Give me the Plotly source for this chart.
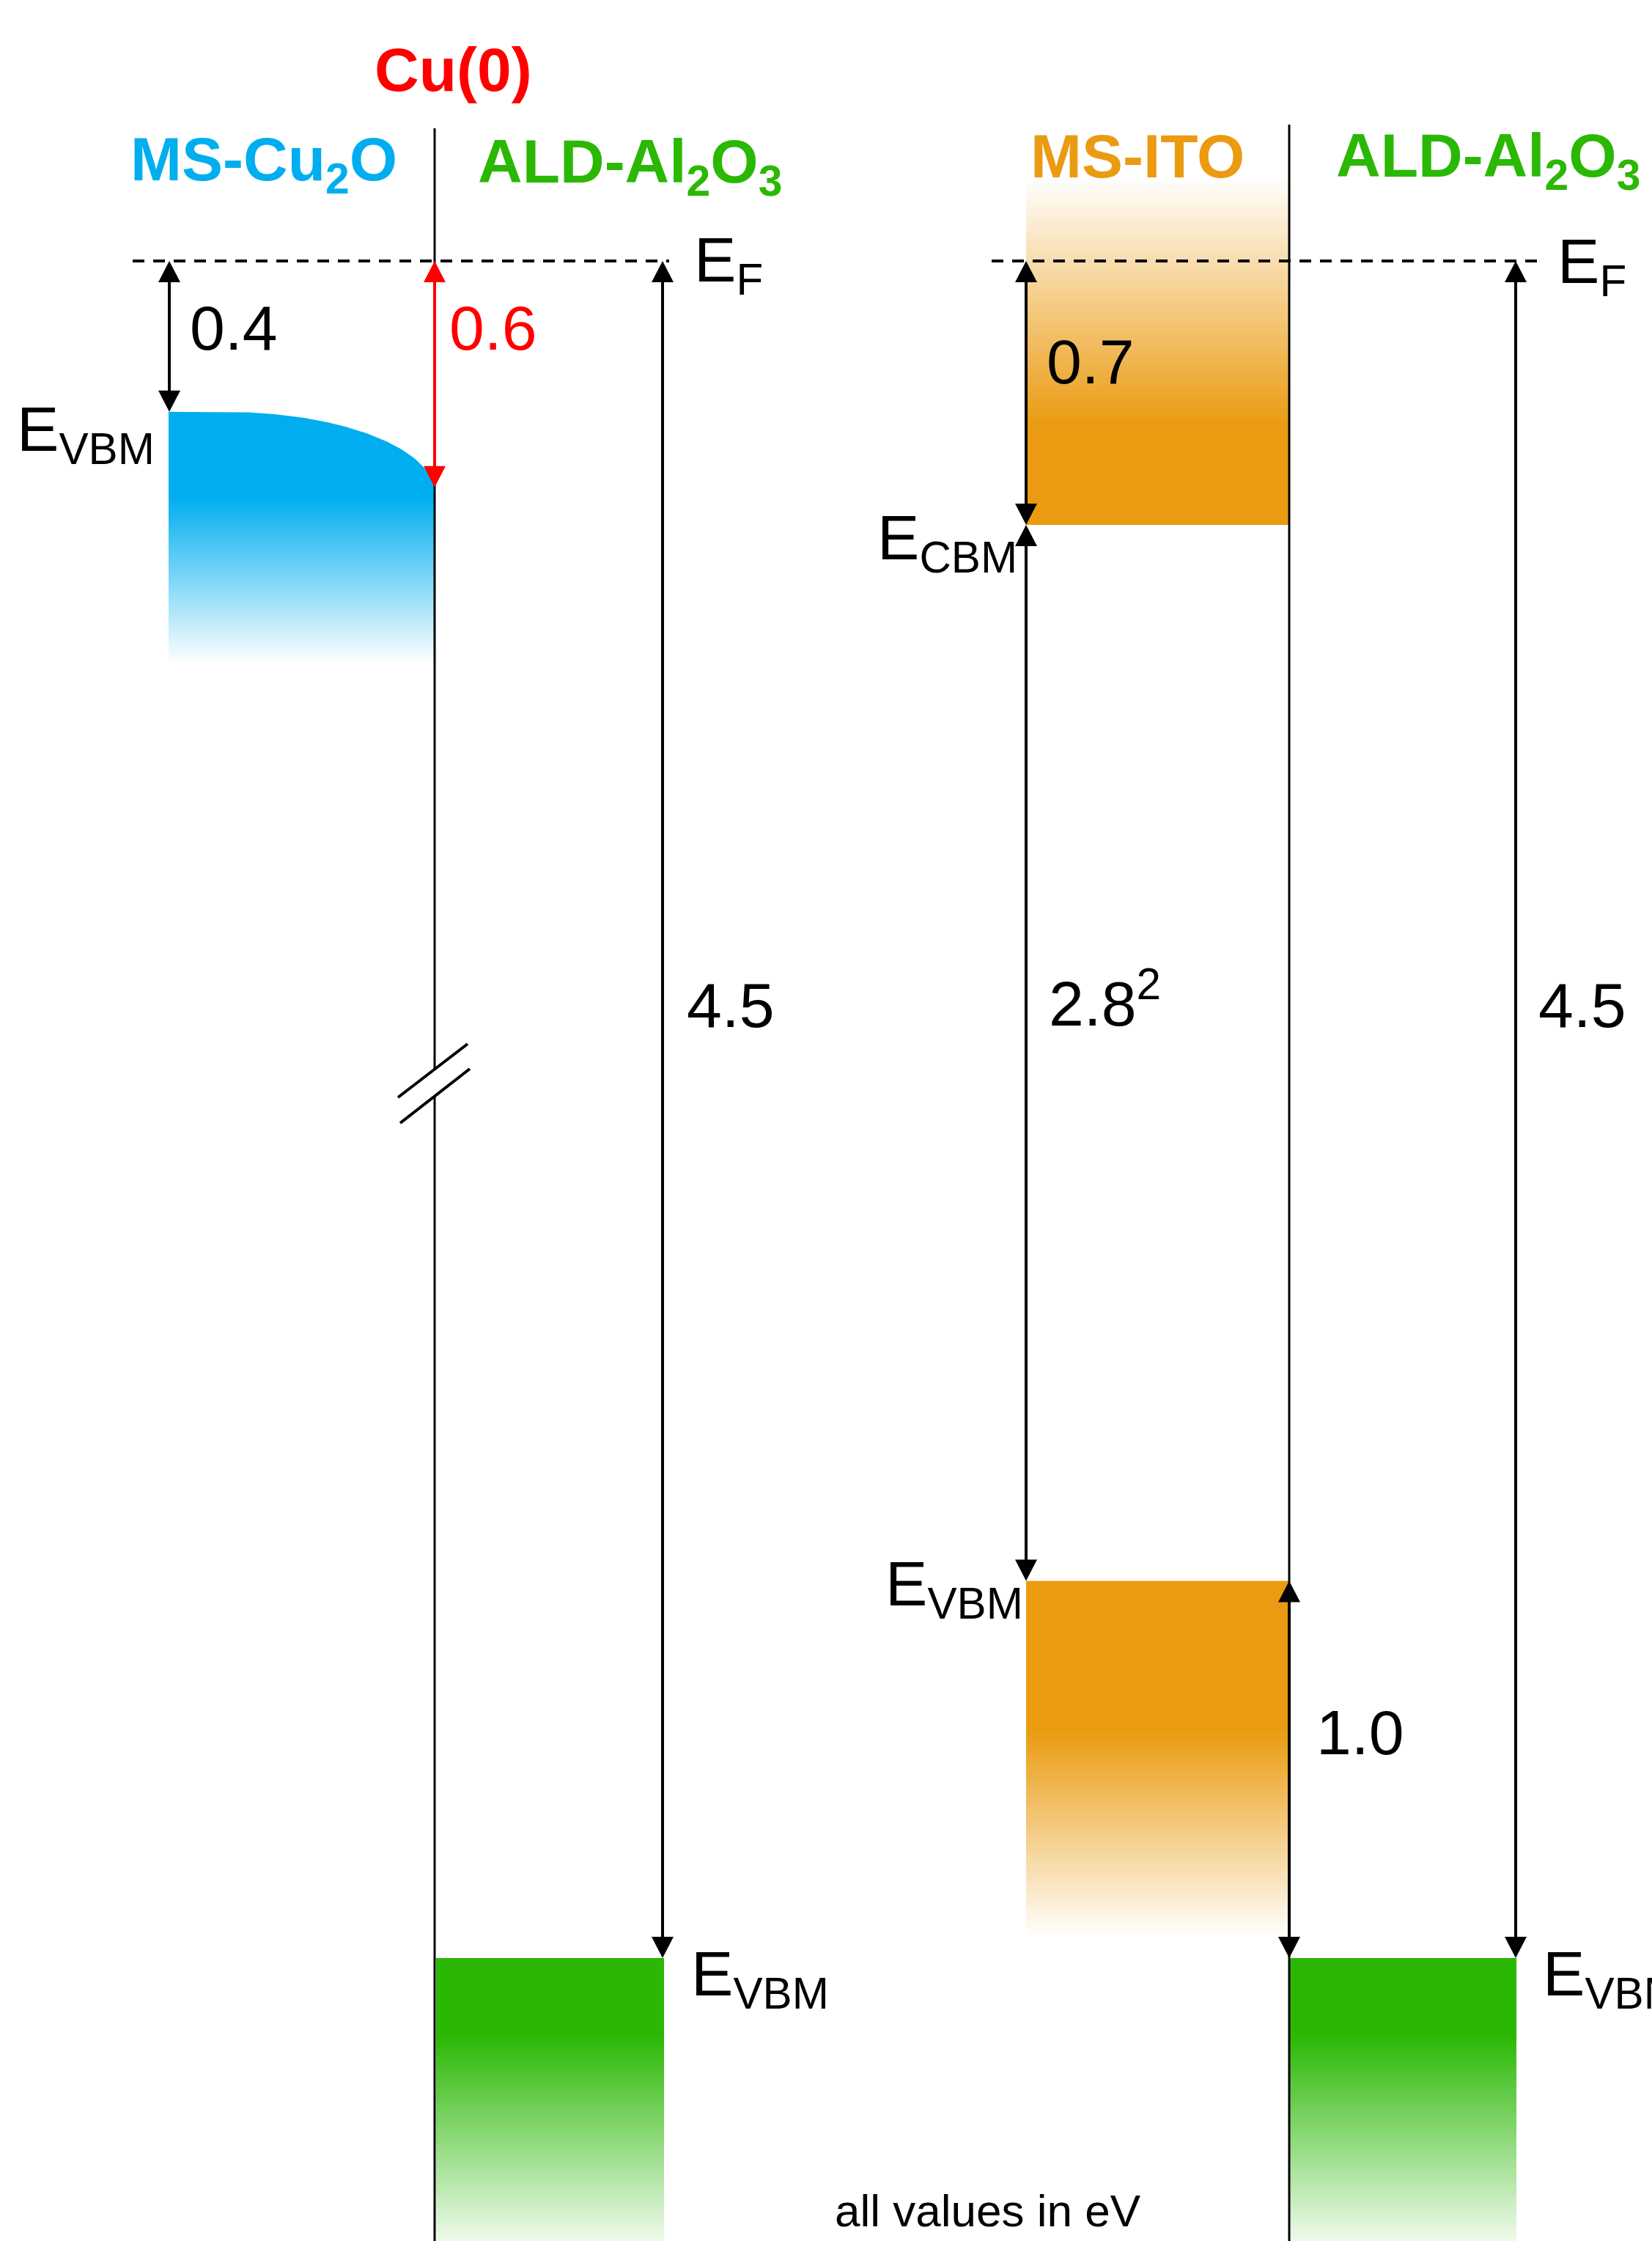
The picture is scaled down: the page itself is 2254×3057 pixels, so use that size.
import numpy as np
import plotly.graph_objects as go

# ---------------------------------------------------------------------------
# Band alignment data (eV), all energies referenced to the Fermi level E_F = 0
# ---------------------------------------------------------------------------
fermi_level = 0.0
cu2o_vbm_offset = 0.4      # E_F - E_VBM, MS-Cu2O bulk
cu0_interface_offset = 0.6  # E_F - E_VBM, Cu2O at the Cu(0) interface
ito_cbm_offset = 0.7       # E_F - E_CBM, MS-ITO (degenerate)
ito_band_gap = 2.8         # E_CBM - E_VBM, MS-ITO
ito_al2o3_vbo = 1.0        # valence band offset ITO / Al2O3
al2o3_vbm_offset = 4.5     # E_F - E_VBM, ALD-Al2O3

header_texts = ["Cu(0)", "MS-Cu<sub>2</sub>O", "ALD-Al<sub>2</sub>O<sub>3</sub>",
                "MS-ITO", "ALD-Al<sub>2</sub>O<sub>3</sub>"]
value_labels = ["0.4", "0.6", "4.5", "0.7", "2.8<sup>2</sup>", "1.0", "4.5"]
footnote = "all values in eV"

# derived levels
cu2o_vbm = fermi_level - cu2o_vbm_offset
cu2o_vbm_interface = fermi_level - cu0_interface_offset
ito_cbm = fermi_level - ito_cbm_offset
ito_vbm = ito_cbm - ito_band_gap
al2o3_vbm = fermi_level - al2o3_vbm_offset

# ---------------------------------------------------------------------------
# Canvas / energy scale
# ---------------------------------------------------------------------------
W, H = 2254, 3057
EF_PX = 356.0
PX_PER_EV = (2671.0 - EF_PX) / al2o3_vbm_offset
Y_TOP = EF_PX / PX_PER_EV
Y_BOT = (EF_PX - H) / PX_PER_EV


def e_at(px):
    """Energy value sitting at a given vertical pixel row."""
    return (EF_PX - px) / PX_PER_EV


def yp(px):
    """Paper coordinate for a vertical pixel row."""
    return 1.0 - px / H


FONT = "Liberation Sans, Arial, Helvetica, sans-serif"
BLUE = (0, 174, 239)
ORANGE = (234, 155, 17)
GREEN = (42, 184, 4)
RED = "#ff0000"

fig = go.Figure()


def gradient_block(x0, x1, e_top, e_bot, solid_from, solid_to, rgb, fade="down", n=240):
    """Vertical colour band whose opacity fades out (heatmap with rgba scale)."""
    edges = np.linspace(e_top, e_bot, n + 1)
    mids = 0.5 * (edges[:-1] + edges[1:])
    if fade == "down":
        alpha = np.clip((mids - e_bot) / (solid_to - e_bot), 0, 1)
    else:
        alpha = np.clip((e_top - mids) / (e_top - solid_from), 0, 1)
    r, g, b = rgb
    fig.add_trace(go.Heatmap(
        x=[x0, x1], y=edges, z=alpha.reshape(-1, 1),
        zmin=0, zmax=1, showscale=False, hoverinfo="skip",
        colorscale=[[0, f"rgba({r},{g},{b},0)"], [1, f"rgba({r},{g},{b},1)"]],
    ))


# --- MS-Cu2O valence band with the downward bend at the Cu(0) interface ---
x_cu_left, x_bend, x_if = 230, 306, 593
a = 288.0
xs = np.linspace(x_bend, x_if, 80)
shape = 1 - np.sqrt(np.clip(1 - ((xs - x_bend) / a) ** 2, 0, None))
shape = shape / shape[-1]
top_curve = cu2o_vbm + (cu2o_vbm_interface - cu2o_vbm) * shape
e_solid_end = e_at(680)
r, g, b = BLUE
fig.add_trace(go.Scatter(
    x=[x_cu_left] + list(xs) + [x_if, x_cu_left],
    y=[cu2o_vbm] + list(top_curve) + [e_solid_end, e_solid_end],
    fill="toself", fillcolor=f"rgb({r},{g},{b})", mode="lines",
    line=dict(width=0, color=f"rgb({r},{g},{b})"), hoverinfo="skip", showlegend=False,
))
gradient_block(x_cu_left, x_if, e_at(677), e_at(905), None, e_at(678), BLUE, "down")

# --- MS-ITO conduction band (filled, degenerate) and valence band ---
gradient_block(1400, 1759, e_at(241), ito_cbm, e_at(580), None, ORANGE, "up")
gradient_block(1400, 1759, ito_vbm, e_at(2643), None, e_at(2362), ORANGE, "down")

# --- ALD-Al2O3 valence bands ---
gradient_block(595, 906, al2o3_vbm, e_at(3080), None, e_at(2776), GREEN, "down")
gradient_block(1759, 2069, al2o3_vbm, e_at(3080), None, e_at(2776), GREEN, "down")

# ---------------------------------------------------------------------------
# Lines: interfaces, axis break, Fermi level
# ---------------------------------------------------------------------------
shapes = []
lw = 3
shapes.append(dict(type="line", xref="x", yref="paper", x0=593, x1=593,
                   y0=yp(175), y1=yp(1459), line=dict(color="black", width=lw)))
shapes.append(dict(type="line", xref="x", yref="paper", x0=593, x1=593,
                   y0=yp(1495), y1=yp(H + 5), line=dict(color="black", width=lw)))
shapes.append(dict(type="line", xref="x", yref="paper", x0=543, x1=638,
                   y0=yp(1497), y1=yp(1424), line=dict(color="black", width=4)))
shapes.append(dict(type="line", xref="x", yref="paper", x0=546, x1=641,
                   y0=yp(1532), y1=yp(1458), line=dict(color="black", width=4)))
shapes.append(dict(type="line", xref="x", yref="paper", x0=1759, x1=1759,
                   y0=yp(170), y1=yp(H + 5), line=dict(color="black", width=lw)))
for x0, x1 in [(181, 913), (1353, 2102)]:
    shapes.append(dict(type="line", xref="x", yref="y", x0=x0, x1=x1,
                       y0=fermi_level, y1=fermi_level,
                       line=dict(color="black", width=4, dash="16px,12px")))

# ---------------------------------------------------------------------------
# Double-headed energy arrows (shaft + two filled triangular heads)
# ---------------------------------------------------------------------------
HEAD_LEN_PX = 29
HEAD_W_PX = 30


def arrow(x, e_from, e_to, color="black"):
    h = HEAD_LEN_PX / PX_PER_EV
    d = 1.0 if e_to > e_from else -1.0
    shapes.append(dict(type="line", xref="x", yref="y", x0=x, x1=x,
                       y0=e_from + d * h * 0.6, y1=e_to - d * h * 0.6,
                       line=dict(color=color, width=4)))
    for tip, dd in [(e_to, d), (e_from, -d)]:
        base = tip - dd * h
        path = (f"M {x - HEAD_W_PX / 2},{base} L {x + HEAD_W_PX / 2},{base} "
                f"L {x},{tip} Z")
        shapes.append(dict(type="path", xref="x", yref="y", path=path,
                           fillcolor=color, line=dict(width=0)))


arrow(231, fermi_level, cu2o_vbm)
arrow(593, fermi_level, cu2o_vbm_interface, RED)
arrow(904, fermi_level, al2o3_vbm)
arrow(1400, fermi_level, ito_cbm)
arrow(1400, ito_cbm, ito_vbm)
arrow(1759, ito_vbm, al2o3_vbm)
arrow(2068, fermi_level, al2o3_vbm)

for s in shapes:
    s["layer"] = "above"

# ---------------------------------------------------------------------------
# Text
# ---------------------------------------------------------------------------
annotations = []


def text_px(text, x, y_px, size, color="black", bold=False, xanchor="left"):
    annotations.append(dict(
        text=text, x=x, y=yp(y_px), xref="x", yref="paper",
        xanchor=xanchor, yanchor="middle", showarrow=False, borderpad=0,
        font=dict(family=FONT, size=size, color=color, weight="bold" if bold else "normal"),
    ))


def level_label(text, x, level, offset_px, xanchor):
    annotations.append(dict(
        text=text, x=x, y=level, xref="x", yref="y", yshift=-offset_px,
        xanchor=xanchor, yanchor="middle", showarrow=False, borderpad=0,
        font=dict(family=FONT, size=86, color="black"),
    ))


# headers
hdr_colors = [RED, "rgb(0,174,239)", "rgb(42,184,4)", "rgb(234,155,17)", "rgb(42,184,4)"]
hdr_x = [618, 360, 859, 1552, 2030]
hdr_y = [95, 223, 226, 213, 218]
for t, c, x, y in zip(header_texts, hdr_colors, hdr_x, hdr_y):
    text_px(t, x, y, 84, c, bold=True, xanchor="center")

# values next to the arrows
val_x = [258, 612, 936, 1427, 1430, 1795, 2098]
val_y = [447, 447, 1371, 493, 1363, 2363, 1371]
val_c = ["black", RED, "black", "black", "black", "black", "black"]
for t, x, y, c in zip(value_labels, val_x, val_y, val_c):
    text_px(t, x, y, 86, c)

# energy level names
level_label("E<sub>F</sub>", 946, fermi_level, 4, "left")
level_label("E<sub>F</sub>", 2124, fermi_level, 6, "left")
level_label("E<sub>VBM</sub>", 212, cu2o_vbm, 30, "right")
level_label("E<sub>CBM</sub>", 1389, ito_cbm, 23, "right")
level_label("E<sub>VBM</sub>", 1397, ito_vbm, 10, "right")
level_label("E<sub>VBM</sub>", 942, al2o3_vbm, 27, "left")
level_label("E<sub>VBM</sub>", 2104, al2o3_vbm, 27, "left")

text_px(footnote, 1348, 3015, 62, xanchor="center")

fig.update_layout(
    width=W, height=H, margin=dict(l=0, r=0, t=0, b=0, pad=0),
    paper_bgcolor="white", plot_bgcolor="white", showlegend=False,
    xaxis=dict(range=[0, W], visible=False, fixedrange=True),
    yaxis=dict(range=[Y_BOT, Y_TOP], visible=False, fixedrange=True),
    shapes=shapes, annotations=annotations,
)

fig.write_html("out.html")
